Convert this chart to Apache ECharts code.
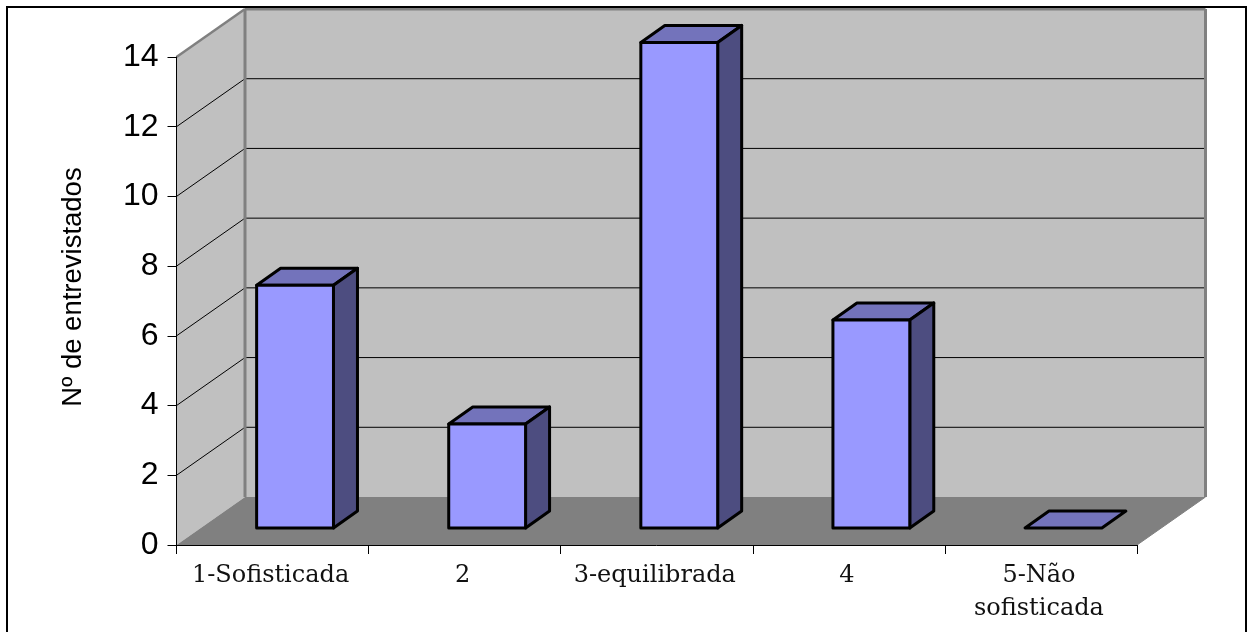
<!DOCTYPE html>
<html>
<head>
<meta charset="utf-8">
<style>html,body{margin:0;padding:0;background:#fff;overflow:hidden}#c{width:1248px;height:632px}</style>
<script src="https://cdn.jsdelivr.net/npm/echarts@6/dist/echarts.min.js"></script>
</head>
<body>
<div id="c"></div>
<script>
const categories = ['1-Sofisticada', '2', '3-equilibrada', '4', '5-Não\nsofisticada'];
const respondents = [7, 3, 14, 6, 0];
const yTicks = [0, 2, 4, 6, 8, 10, 12, 14];
const yTitle = 'Nº de entrevistados';

const DEPTH = [68.5, -48];
const FRONT = [22.5, -17];
const SIDE = [24, -17];
const BAR_FRAC = 0.4;
const BAR_PERSPECTIVE = 0.995;

const chart = echarts.init(document.getElementById('c'), null, {renderer: 'canvas'});

function poly(points, fill, stroke, lw) {
  return {type: 'polygon', shape: {points}, silent: true,
    style: {fill: fill, stroke: stroke || null, lineWidth: lw || 0, lineJoin: 'round'}};
}
function seg(a, b, stroke, lw) {
  return {type: 'line', shape: {x1: a[0], y1: a[1], x2: b[0], y2: b[1]}, silent: true,
    style: {stroke, lineWidth: lw, fill: null}};
}
const off = (p, d) => [p[0] + d[0], p[1] + d[1]];

function renderRoom(params, api) {
  const band = api.size([1, 0])[0];
  const lo = api.coord([0, 0]);
  const hi = api.coord([categories.length - 1, yTicks[yTicks.length - 1]]);
  const x0 = lo[0] - band / 2, x1 = hi[0] + band / 2, y0 = lo[1], y1 = hi[1];
  const a = [x0, y0], b = [x1, y0], c = [x0, y1], e = [x1, y1];
  const children = [
    poly([c, off(c, DEPTH), off(a, DEPTH), a], '#C0C0C0'),
    poly([off(c, DEPTH), off(e, DEPTH), off(b, DEPTH), off(a, DEPTH)], '#C0C0C0'),
    poly([a, b, off(b, DEPTH), off(a, DEPTH)], '#808080')
  ];
  yTicks.forEach(function (v) {
    if (v === 0 || v === yTicks[yTicks.length - 1]) return;
    const l = api.coord([0, v]); l[0] = x0;
    children.push(seg(l, off(l, DEPTH), '#000', 1));
    children.push(seg(off(l, DEPTH), [x1 + DEPTH[0], l[1] + DEPTH[1]], '#000', 1));
  });
  children.push(seg(c, off(c, DEPTH), '#808080', 2.5));
  children.push(seg(off(c, DEPTH), off(a, DEPTH), '#808080', 3));
  children.push(seg(off(c, DEPTH), off(e, DEPTH), '#808080', 3));
  children.push(seg(off(e, DEPTH), off(b, DEPTH), '#808080', 3));
  children.push(seg(b, off(b, DEPTH), '#808080', 1));
  return {type: 'group', children};
}

function renderBar(params, api) {
  const idx = api.value(0), val = api.value(1);
  const band = api.size([1, 0])[0];
  const w = band * BAR_FRAC;
  const base = api.coord([idx, 0]), top = api.coord([idx, val]);
  const L = base[0] - w / 2 + FRONT[0], R = L + w;
  const yb = base[1] + FRONT[1], yt = yb - (base[1] - top[1]) * BAR_PERSPECTIVE;
  const stroke = '#000', lw = 3, children = [];
  children.push(poly([[L, yt], [R, yt], off([R, yt], SIDE), off([L, yt], SIDE)], '#7373BB', stroke, lw));
  if (val > 0) {
    children.push(poly([[R, yt], off([R, yt], SIDE), off([R, yb], SIDE), [R, yb]], '#4D4D80', stroke, lw));
    children.push(poly([[L, yt], [R, yt], [R, yb], [L, yb]], '#9999FF', stroke, lw));
  }
  return {type: 'group', children};
}

chart.setOption({
  animation: false,
  backgroundColor: '#fff',
  graphic: [{type: 'rect', shape: {x: 7, y: 7, width: 1239, height: 640}, silent: true,
    style: {fill: null, stroke: '#000', lineWidth: 2}, z: 100}],
  grid: {left: 176.5, right: 111, top: 57, bottom: 87, containLabel: false},
  xAxis: {
    type: 'category', data: categories, z: 10,
    axisLine: {show: true, lineStyle: {color: '#000', width: 1}},
    axisTick: {show: true, length: 9, alignWithLabel: false, lineStyle: {color: '#000', width: 1}},
    axisLabel: {interval: 0, fontFamily: 'DejaVu Serif', fontSize: 24, color: '#111', margin: 14, lineHeight: 33, padding: [0, 4, 0, 0]}
  },
  yAxis: {
    type: 'value', min: 0, max: 14, interval: 2, z: 10,
    name: yTitle, nameLocation: 'middle', nameGap: 89,
    nameTextStyle: {fontFamily: 'Liberation Sans', fontSize: 27.5, color: '#000', padding: [0, 0, 0, 28]},
    splitLine: {show: false},
    axisLine: {show: true, lineStyle: {color: '#000', width: 1}},
    axisTick: {show: true, length: 9, lineStyle: {color: '#000', width: 1}},
    axisLabel: {fontFamily: 'Liberation Sans', fontSize: 32, color: '#000', margin: 18, padding: [0, 0, 11, 0]}
  },
  series: [
    {type: 'custom', name: 'room', renderItem: renderRoom, data: [[0, 0]], z: 1, silent: true, clip: false},
    {type: 'custom', name: 'Nº de entrevistados', renderItem: renderBar, z: 2, silent: true, clip: false,
      encode: {x: 0, y: 1},
      data: respondents.map(function (v, i) { return [i, v]; })}
  ]
});
</script>
</body>
</html>
